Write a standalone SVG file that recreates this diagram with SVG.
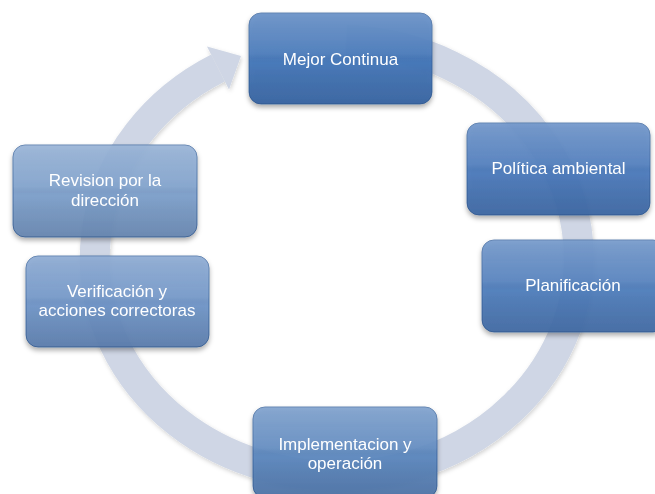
<svg xmlns="http://www.w3.org/2000/svg" width="655" height="494" viewBox="0 0 655 494">
  <defs>
    <linearGradient id="gloss" x1="0" y1="0" x2="0" y2="1">
      <stop offset="0" stop-color="#ffffff" stop-opacity="0.22"/>
      <stop offset="0.45" stop-color="#ffffff" stop-opacity="0.06"/>
      <stop offset="0.55" stop-color="#000000" stop-opacity="0.0"/>
      <stop offset="1" stop-color="#001030" stop-opacity="0.16"/>
    </linearGradient>
    <filter id="shadow" x="-10%" y="-10%" width="120%" height="130%">
      <feDropShadow dx="0" dy="3" stdDeviation="2.5" flood-color="#000000" flood-opacity="0.35"/>
    </filter>
    <filter id="bandShadow" x="-10%" y="-10%" width="120%" height="120%">
      <feDropShadow dx="1" dy="2" stdDeviation="2" flood-color="#000000" flood-opacity="0.18"/>
    </filter>
  </defs>
  <style>
    .band { fill: none; stroke: #cfd6e5; stroke-width: 30; }
    .head { fill: #cfd6e5; }
    .box { stroke: #2d5a94; stroke-opacity: 0.7; stroke-width: 1; }
    .gl { fill: url(#gloss); }
    .lbl { font-family: "Liberation Sans", Arial, sans-serif; font-size: 17px; fill: #ffffff; text-anchor: middle; }
  </style>
  <rect width="655" height="494" fill="#ffffff"/>

  <g id="connectors" filter="url(#bandShadow)">
    <path class="band" d="M346.4,40.1 A242,218 0 1 1 218,68"/>
    <polygon class="head" points="241,56 207,46.6 229,89.4"/>
  </g>

  <g id="node-mejor" filter="url(#shadow)">
    <rect class="box" x="249" y="13" width="183" height="91" rx="12" fill="#4174b8" fill-opacity="0.93"/>
    <rect class="gl" x="249" y="13" width="183" height="91" rx="12"/>
    <text class="lbl" x="340.5" y="65">Mejor Continua</text>
  </g>

  <g id="node-politica" filter="url(#shadow)">
    <rect class="box" x="467" y="123" width="183" height="92" rx="12" fill="#4677ba" fill-opacity="0.9"/>
    <rect class="gl" x="467" y="123" width="183" height="92" rx="12"/>
    <text class="lbl" x="558.5" y="174">Política ambiental</text>
  </g>

  <g id="node-planificacion" filter="url(#shadow)">
    <rect class="box" x="482" y="240" width="183" height="92" rx="12" fill="#4b7bbb" fill-opacity="0.9"/>
    <rect class="gl" x="482" y="240" width="183" height="92" rx="12"/>
    <text class="lbl" x="573" y="291">Planificación</text>
  </g>

  <g id="node-implementacion" filter="url(#shadow)">
    <rect class="box" x="253" y="407" width="184" height="91" rx="12" fill="#5a86bf" fill-opacity="0.9"/>
    <rect class="gl" x="253" y="407" width="184" height="91" rx="12"/>
    <text class="lbl" x="345" y="450">Implementacion y</text>
    <text class="lbl" x="345" y="469">operación</text>
  </g>

  <g id="node-verificacion" filter="url(#shadow)">
    <rect class="box" x="26" y="256" width="183" height="91" rx="12" fill="#6b92c6" fill-opacity="0.9"/>
    <rect class="gl" x="26" y="256" width="183" height="91" rx="12"/>
    <text class="lbl" x="117" y="297">Verificación y</text>
    <text class="lbl" x="117" y="316">acciones correctoras</text>
  </g>

  <g id="node-revision" filter="url(#shadow)">
    <rect class="box" x="13" y="145" width="184" height="92" rx="12" fill="#7a9dcb" fill-opacity="0.9"/>
    <rect class="gl" x="13" y="145" width="184" height="92" rx="12"/>
    <text class="lbl" x="105" y="186">Revision por la</text>
    <text class="lbl" x="105" y="206">dirección</text>
  </g>
</svg>
